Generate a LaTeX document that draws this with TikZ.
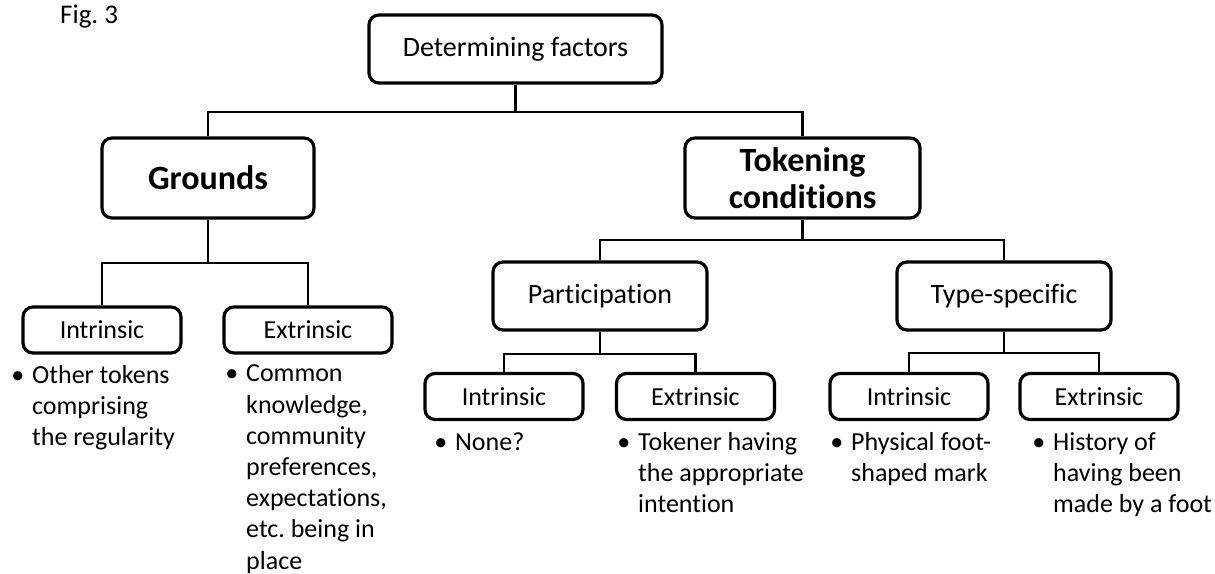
\documentclass[tikz,border=0pt]{standalone}
\usepackage{fontspec}
\setmainfont{Carlito}[Ligatures=NoCommon]

\begin{document}
\begin{tikzpicture}[x=1pt,y=-1pt,
  box/.style={draw, line width=3.2pt, rounded corners=10pt, align=center, inner sep=0pt},
  leafbox/.style={box, minimum width=158pt, minimum height=46pt, font=\fontsize{26}{31}\selectfont},
  conn/.style={line width=2.2pt},
  bullist/.style={anchor=base west, align=left, inner sep=0pt, font=\fontsize{26}{31.2}\selectfont}]

  \useasboundingbox (0,0) rectangle (1215,573);

  % Figure label
  \node[anchor=base west, inner sep=0pt, font=\fontsize{27}{32}\selectfont] (figlabel) at (60,23) {Fig.\ 3};

  % Top level
  \node[box, minimum width=293pt, minimum height=68pt, font=\fontsize{28}{34}\selectfont] (factors) at (515.5,49) {Determining factors};

  % Second level
  \node[box, minimum width=212pt, minimum height=80pt, font=\fontsize{34}{37}\selectfont\bfseries] (grounds) at (208,178) {Grounds};
  \node[box, minimum width=235pt, minimum height=80pt, font=\fontsize{34}{37}\selectfont\bfseries] (tokening) at (802.5,178) {Tokening\\conditions};

  % Third level
  \node[box, minimum width=214pt, minimum height=68pt, font=\fontsize{28}{34}\selectfont] (particip) at (600,296) {Participation};
  \node[box, minimum width=214pt, minimum height=68pt, font=\fontsize{28}{34}\selectfont] (typespec) at (1004,296) {Type-specific};

  % Leaf boxes
  \node[leafbox] (grdint) at (102,330) {Intrinsic};
  \node[leafbox, minimum width=168pt] (grdext) at (308,330) {Extrinsic};
  \node[leafbox] (partint) at (504,396.5) {Intrinsic};
  \node[leafbox] (partext) at (695.5,396.5) {Extrinsic};
  \node[leafbox] (typeint) at (909,396.5) {Intrinsic};
  \node[leafbox] (typeext) at (1099,396.5) {Extrinsic};

  % Connectors
  \draw[conn] (factors.south) -- ++(0,27) -| (grounds.north);
  \draw[conn] (factors.south) -- ++(0,27) -| (tokening.north);
  \draw[conn] (grounds.south) -- ++(0,43) -| (grdint.north);
  \draw[conn] (grounds.south) -- ++(0,43) -| (grdext.north);
  \draw[conn] (tokening.south) -- ++(0,20) -| (particip.north);
  \draw[conn] (tokening.south) -- ++(0,20) -| (typespec.north);
  \draw[conn] (particip.south) -- ++(0,22) -| (partint.north);
  \draw[conn] (particip.south) -- ++(0,22) -| (partext.north);
  \draw[conn] (typespec.south) -- ++(0,21) -| (typeint.north);
  \draw[conn] (typespec.south) -- ++(0,21) -| (typeext.north);

  % Bullet texts (placed at the baseline of their last line)
  \node[bullist] (grdintlist) at (32,445.4) {\llap{\textbullet\hspace{8pt}}Other tokens\\comprising\\the regularity};
  \node[bullist] (grdextlist) at (246,569) {\llap{\textbullet\hspace{8pt}}Common\\knowledge,\\community\\preferences,\\expectations,\\etc.\ being in\\place};
  \node[bullist] (partintlist) at (455,450) {\llap{\textbullet\hspace{8pt}}None?};
  \node[bullist] (partextlist) at (638,512.4) {\llap{\textbullet\hspace{8pt}}Tokener having\\the appropriate\\intention};
  \node[bullist] (typeintlist) at (851,481.2) {\llap{\textbullet\hspace{8pt}}Physical foot-\\shaped mark};
  \node[bullist] (typeextlist) at (1053,512.4) {\llap{\textbullet\hspace{8pt}}History of\\having been\\made by a foot};

\end{tikzpicture}
\end{document}
